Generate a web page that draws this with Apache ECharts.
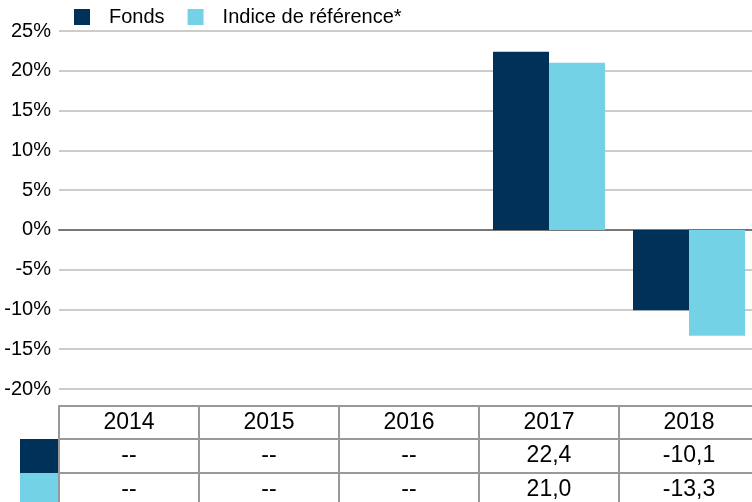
<!DOCTYPE html>
<html>
<head>
<meta charset="utf-8">
<script src="https://cdn.jsdelivr.net/npm/echarts@6/dist/echarts.min.js"></script>
<style>
  html, body { margin: 0; padding: 0; background: #fff; }
  #chart { width: 752px; height: 502px; }
</style>
</head>
<body>
<div id="chart"></div>
<script>
// données
var years = ['2014', '2015', '2016', '2017', '2018']
var fonds = [null, null, null, 22.4, -10.1]
var indice = [null, null, null, 21.0, -13.3]
var yTicks = { min: -20, max: 25, step: 5 }

var darkBlue = '#003158'
var lightBlue = '#74d2e6'
var tableLine = '#999999'
var font = 'Liberation Sans, Arial, sans-serif'

// zone de tracé (la dernière colonne dépasse du cadre)
var gridLeft = 59
var gridWidth = 700
var gridTop = 31
var gridBottom = 113
var rowOffsets = [17, 50, 84] // en-tête, Fonds, Indice

function fmt(v) {
  if (v === null || v === undefined) return '--'
  return v.toFixed(1).replace('.', ',')
}

var chart = echarts.init(document.getElementById('chart'))

var rowAxis = function(offset, values, withTicks) {
  return {
    type: 'category',
    data: years,
    position: 'bottom',
    offset: offset,
    axisLine: { show: true, onZero: false, lineStyle: { color: tableLine, width: 2 } },
    axisTick: {
      show: withTicks,
      interval: 0,
      length: 110,
      lineStyle: { color: tableLine, width: 2 }
    },
    axisLabel: {
      interval: 0,
      margin: 5,
      color: '#000',
      fontFamily: font,
      fontSize: 23,
      lineHeight: 23,
      formatter: function(val, idx) {
        return values ? fmt(values[idx]) : val
      }
    },
    splitLine: { show: false }
  }
}

var H = 502
var swatchTop1 = H - gridBottom + rowOffsets[1]
var swatchTop2 = H - gridBottom + rowOffsets[2]

chart.setOption({
  animation: false,
  textStyle: { fontFamily: font },
  legend: {
    top: 2,
    left: 69,
    itemWidth: 16,
    itemHeight: 16,
    itemGap: 23,
    icon: 'rect',
    textStyle: { fontSize: 20, color: '#000', fontFamily: font, padding: [0, 0, 0, 14] },
    data: ['Fonds', 'Indice de référence*']
  },
  grid: {
    left: gridLeft,
    width: gridWidth,
    top: gridTop,
    bottom: gridBottom,
    containLabel: false,
    outerBoundsMode: 'none'
  },
  xAxis: [
    {
      type: 'category',
      data: years,
      position: 'bottom',
      axisLine: { show: true, onZero: true, lineStyle: { color: '#777', width: 2 } },
      axisTick: { show: false },
      axisLabel: { show: false }
    },
    rowAxis(rowOffsets[0], null, true),
    rowAxis(rowOffsets[1], fonds, false),
    rowAxis(rowOffsets[2], indice, false)
  ],
  yAxis: {
    type: 'value',
    min: yTicks.min,
    max: yTicks.max,
    interval: yTicks.step,
    axisLine: { show: false },
    axisTick: { show: false },
    axisLabel: {
      margin: 8,
      color: '#000',
      fontSize: 20,
      fontFamily: font,
      formatter: '{value}%'
    },
    splitLine: { lineStyle: { color: '#cccccc', width: 2 } }
  },
  series: [
    {
      name: 'Fonds',
      type: 'bar',
      data: fonds,
      barGap: 0,
      barCategoryGap: '20%',
      itemStyle: { color: darkBlue }
    },
    {
      name: 'Indice de référence*',
      type: 'bar',
      data: indice,
      barGap: 0,
      barCategoryGap: '20%',
      itemStyle: { color: lightBlue }
    }
  ],
  // pastilles de couleur à gauche du tableau
  graphic: [
    {
      type: 'rect',
      shape: { x: 20, y: swatchTop1, width: gridLeft - 20, height: rowOffsets[2] - rowOffsets[1] },
      style: { fill: darkBlue }
    },
    {
      type: 'rect',
      shape: { x: 20, y: swatchTop2, width: gridLeft - 20, height: 40 },
      style: { fill: lightBlue }
    }
  ]
})
</script>
</body>
</html>
